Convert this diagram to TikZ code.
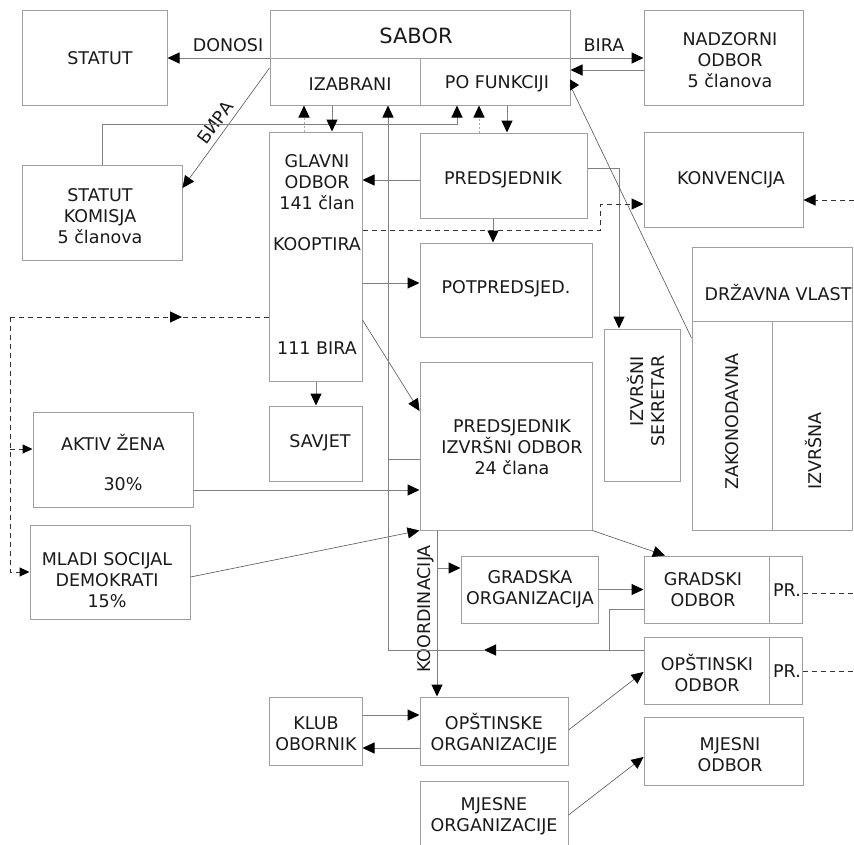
\documentclass[tikz,border=0pt]{standalone}
\usepackage{fontspec}
\setmainfont{DejaVu Sans}
\usetikzlibrary{arrows.meta}
\definecolor{boxc}{HTML}{A0A0A0}
\definecolor{linec}{HTML}{808080}
\definecolor{thinc}{HTML}{555555}
\definecolor{dashc}{HTML}{333333}
\definecolor{dotc}{HTML}{AAAAAA}
\definecolor{txt}{HTML}{1A1A1A}
\tikzset{
  box/.style={draw=boxc, line width=1pt, inner sep=0pt, rectangle},
  boxline/.style={draw=boxc, line width=1pt},
  lbl/.style={text=txt, inner sep=0pt, font=\fontsize{17.5pt}{21pt}\selectfont, align=center},
  conn/.style={draw=linec, line width=1pt},
  thinl/.style={draw=thinc, line width=0.6pt},
  dashl/.style={draw=dashc, line width=1pt, dash pattern=on 5pt off 4pt},
  dotl/.style={draw=dotc, line width=1pt, dash pattern=on 2pt off 2pt},
  arr/.style={-{Triangle[length=12pt,width=11pt,color=black]}},
  arrs/.style={-{Triangle[length=10pt,width=9pt,color=black]}},
  arrn/.style={-{Triangle[length=9pt,width=11pt,color=black]}}
}
\begin{document}
\begin{tikzpicture}[x=1pt,y=-1pt]
\useasboundingbox (0,0) rectangle (854,844);
\fill[white] (0,0) rectangle (854,844);
\clip (0,0) rectangle (854,844);

% boxes
\node[box, minimum width=145pt, minimum height=95pt] (statut) at (94.5,57.5) {};
\node[box, minimum width=300pt, minimum height=95pt] (sabor) at (420,57.5) {};
\node[box, minimum width=159pt, minimum height=95pt] (nadzorni) at (723.5,57.5) {};
\node[box, minimum width=160pt, minimum height=95pt] (komisja) at (102,212.5) {};
\node[box, minimum width=93pt, minimum height=249pt] (glavni) at (315.5,256.5) {};
\node[box, minimum width=93pt, minimum height=75pt] (savjet) at (315.5,443.5) {};
\node[box, minimum width=167pt, minimum height=85pt] (predsj) at (503.5,175.5) {};
\node[box, minimum width=159pt, minimum height=95pt] (konv) at (723.5,179.5) {};
\node[box, minimum width=172pt, minimum height=94pt] (potpred) at (506,290) {};
\node[box, minimum width=172pt, minimum height=168pt] (izvrsni) at (506,446) {};
\node[box, minimum width=76pt, minimum height=152pt] (sekretar) at (642,405) {};
\node[box, minimum width=160pt, minimum height=283pt] (drzavna) at (772,388.5) {};
\node[box, minimum width=160pt, minimum height=95pt] (aktiv) at (113,459.5) {};
\node[box, minimum width=160pt, minimum height=94pt] (mladi) at (110,572) {};
\node[box, minimum width=137pt, minimum height=67pt] (gradska) at (529.5,589.5) {};
\node[box, minimum width=158pt, minimum height=67pt] (gradski) at (723,589.5) {};
\node[box, minimum width=158pt, minimum height=67pt] (opstinski) at (723,670.5) {};
\node[box, minimum width=159pt, minimum height=68pt] (mjesni) at (723.5,751) {};
\node[box, minimum width=148pt, minimum height=68pt] (opstinske) at (494,731) {};
\node[box, minimum width=148pt, minimum height=79pt] (mjesne) at (494,820.5) {};
\node[box, minimum width=93pt, minimum height=68pt] (klub) at (315.5,731) {};

% cell dividers
\draw[boxline] (sabor.west |- 0,58) -- (sabor.east |- 0,58);
\draw[boxline] (420,58) -- (sabor.south -| 420,0);
\draw[boxline] (drzavna.west |- 0,321) -- (drzavna.east |- 0,321);
\draw[boxline] (772,321) -- (drzavna.south -| 772,0);
\draw[boxline] (gradski.north -| 769,0) -- (gradski.south -| 769,0);
\draw[boxline] (opstinski.north -| 769,0) -- (opstinski.south -| 769,0);

% texts
\node[lbl] (t-statut) at (100,58) {STATUT};
\node[lbl, font=\fontsize{21pt}{25pt}\selectfont] (t-sabor) at (416,36) {SABOR};
\node[lbl] (t-izabrani) at (350,84) {IZABRANI};
\node[lbl] (t-pofunk) at (497,84) {PO FUNKCIJI};
\node[lbl] (t-nadz) at (730,60) {NADZORNI\\ODBOR\\5 članova};
\node[lbl] (t-donosi) at (228,45.5) {DONOSI};
\node[lbl] (t-bira) at (604,45) {BIRA};
\node[lbl, rotate=53.7] (t-bira2) at (215.5,122.5) {БИРА};
\node[lbl] (t-komisja) at (100,216) {STATUT\\KOMISJA\\5 članova};
\node[lbl] (t-glavni) at (317,182) {GLAVNI\\ODBOR\\141 član};
\node[lbl] (t-koopt) at (317,244) {KOOPTIRA};
\node[lbl] (t-111) at (317,348) {111 BIRA};
\node[lbl] (t-savjet) at (320,443) {SAVJET};
\node[lbl] (t-predsj) at (503,180) {PREDSJEDNIK};
\node[lbl] (t-konv) at (731,180) {KONVENCIJA};
\node[lbl] (t-potpred) at (506,289) {POTPREDSJED.};
\node[lbl] (t-izvrsni) at (512,447) {PREDSJEDNIK\\IZVRŠNI ODBOR\\24 člana};
\node[lbl, rotate=90, align=right] (t-sekretar) at (646,401) {IZVRŠNI\\SEKRETAR};
\node[lbl] (t-drz) at (778,292) {DRŽAVNA VLAST};
\node[lbl, rotate=90, anchor=west] (t-zak) at (732,490) {ZAKONODAVNA};
\node[lbl, rotate=90, anchor=west] (t-izvrsna) at (813,490) {IZVRŠNA};
\node[lbl] (t-aktiv) at (113,442) {AKTIV ŽENA};
\node[lbl] (t-aktiv2) at (123,484) {30\%};
\node[lbl] (t-mladi) at (107,580) {MLADI SOCIJAL\\DEMOKRATI\\15\%};
\node[lbl] (t-gradska) at (530,589.5) {GRADSKA\\ORGANIZACIJA};
\node[lbl] (t-gradski) at (703,589.5) {GRADSKI\\ODBOR};
\node[lbl] (t-pr1) at (787,590) {PR.};
\node[lbl] (t-opst) at (707,673) {OPŠTINSKI\\ODBOR};
\node[lbl] (t-pr2) at (787,671) {PR.};
\node[lbl] (t-mjesni) at (730,755) {MJESNI\\ODBOR};
\node[lbl] (t-opstinske) at (494,734) {OPŠTINSKE\\ORGANIZACIJE};
\node[lbl] (t-mjesne) at (494,816.5) {MJESNE\\ORGANIZACIJE};
\node[lbl] (t-klub) at (316,734) {KLUB\\OBORNIK};
\node[lbl, rotate=90] (t-koord) at (426,609) {KOORDINACIJA};

% free-end coordinates
\coordinate (rk) at (854,200);
\coordinate (rg) at (854,593);
\coordinate (ro) at (854,671);
\coordinate (lc1) at (10,317);
\coordinate (lc3) at (10,449);
\coordinate (lc2) at (10,572);
\coordinate (midl) at (182,317);
\coordinate (lb) at (388,650);
\coordinate (midb) at (484,650);

% connectors
\draw[conn,arr] (sabor.west |- 0,58) -- (statut.east |- 0,58);
\draw[conn,arr] (sabor.east |- 0,58) -- (nadzorni.west |- 0,58);
\draw[conn,arr] (nadzorni.west |- 0,70) -- (sabor.east |- 0,70);
\draw[thinl,arr] (sabor.west |- 0,68) -- (komisja.east |- 0,188);
\draw[conn,arr] (komisja.north) |- (457,124) -- (sabor.south -| 457,0);
\draw[dotl,arr] (glavni.north -| 304,0) -- (sabor.south -| 304,0);
\draw[conn,arr] (sabor.south -| 332,0) -- (glavni.north -| 332,0);
\draw[dotl,arr] (predsj.north -| 479,0) -- (sabor.south -| 479,0);
\draw[conn,arr] (sabor.south -| 507,0) -- (predsj.north -| 507,0);
\draw[conn,arr] (predsj.west |- 0,180) -- (glavni.east |- 0,180);
\draw[conn,arr] (predsj.south -| 493,0) -- (potpred.north -| 493,0);
\draw[conn,arr] (predsj.east |- 0,168) -| (sekretar.north -| 619,0);
\draw[dashl,arr] (glavni.east |- 0,230) -- (600,230) -- (600,204) -- (konv.west |- 0,204);
\draw[dashl,arr] (rk) -- (konv.east |- 0,200);
\draw[thinl,arrn] (drzavna.west |- 0,338) -- (570,85) -- (579,85);
\draw[conn,arr] (glavni.east |- 0,283) -- (potpred.west |- 0,283);
\draw[thinl,arr] (glavni.east |- 0,320) -- (izvrsni.west |- 0,411);
\draw[conn,arr] (glavni.south -| 316,0) -- (savjet.north -| 316,0);
\draw[dashl] (glavni.west |- 0,317) -- (midl);
\draw[dashl,arr] (lc1) -- (midl);
\draw[dashl,arrs] (lc1) -- (lc2) -- (mladi.west |- 0,572);
\draw[dashl,arrs] (lc3) -- (aktiv.west |- 0,449);
\draw[conn,arr] (aktiv.east |- 0,490) -- (izvrsni.west |- 0,490);
\draw[thinl,arr] (mladi.east |- 0,577) -- (izvrsni.south west);
\draw[thinl,arr] (izvrsni.south east) -- (gradski.north -| 665,0);
\draw[conn,arr] (opstinski.west |- 0,650) -- (midb);
\draw[conn,arr] (midb) -- (lb) -- (sabor.south -| 388,0);
\draw[conn] (gradski.west |- 0,609) -| (609,650);
\draw[conn] (388,459) -- (izvrsni.west |- 0,459);
\draw[conn,arr] (izvrsni.south -| 437,0) -- (opstinske.north -| 437,0);
\draw[conn,arr] (437,568) -- (gradska.west |- 0,568);
\draw[conn,arr] (gradska.east |- 0,589.5) -- (gradski.west |- 0,589.5);
\draw[dashl] (gradski.east |- 0,593) -- (rg);
\draw[dashl] (opstinski.east |- 0,671) -- (ro);
\draw[thinl,arr] (opstinske.east |- 0,730) -- (opstinski.west |- 0,672);
\draw[thinl,arr] (mjesne.east |- 0,815) -- (mjesni.west |- 0,757);
\draw[conn,arr] (klub.east |- 0,715) -- (opstinske.west |- 0,715);
\draw[conn,arr] (opstinske.west |- 0,748) -- (klub.east |- 0,748);
\end{tikzpicture}
\end{document}
